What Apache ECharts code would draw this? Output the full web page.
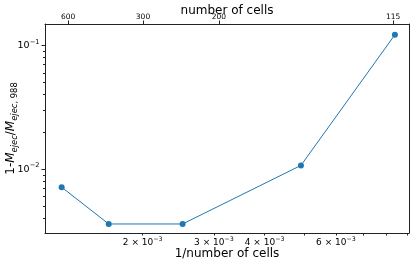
<!DOCTYPE html>
<html><head><meta charset="utf-8">
<script src="https://cdn.jsdelivr.net/npm/echarts@6/dist/echarts.min.js"></script>
<style>html,body{margin:0;padding:0;background:#fff}#c{width:415px;height:264px}</style>
</head><body><div id="c"></div>
<script>
// data (real values; axes are log10)
const xValues = [1.262e-3, 1.649e-3, 2.51e-3, 4.918e-3, 8.39e-3];
const yValues = [7.14e-3, 3.60e-3, 3.60e-3, 1.071e-2, 0.122];
const xRange = [1.148e-3, 9.09e-3];
const yRange = [3.043e-3, 0.149];
const bottomLabelValues = [2e-3, 3e-3, 4e-3, 6e-3];
const bottomTickValues = [2e-3, 3e-3, 4e-3, 5e-3, 6e-3, 7e-3, 8e-3, 9e-3];
const topTickValues = [1.310e-3, 2.004e-3, 3.085e-3, 8.31e-3];
const topTickLabels = ['600', '300', '200', '115'];
const leftMajorValues = [0.01, 0.1];
const leftMinorValues = [0.004, 0.005, 0.006, 0.007, 0.008, 0.009, 0.02, 0.03, 0.04, 0.05, 0.06, 0.07, 0.08, 0.09];

const L = Math.log10;
const FONT = 'DejaVu Sans';
const C = '#1f77b4';

function sciLabel(v) {
  const exp = Math.floor(v + 1e-9);
  const mant = Math.round(Math.pow(10, v - exp));
  const e = '\u2212' + (-exp);
  if (mant === 1) return '{m|10}{s|' + e + '}';
  return '{m|' + mant + ' \u00d7 10}{s|' + e + '}';
}
function topLabel(v) {
  let best = 0, d = Infinity;
  topTickValues.forEach((t, i) => { const dd = Math.abs(L(t) - v); if (dd < d) { d = dd; best = i; } });
  return topTickLabels[best];
}

const lineCol = '#222';
const chart = echarts.init(document.getElementById('c'), null, {renderer: 'canvas'});
chart.setOption({
  animation: false,
  backgroundColor: '#fff',
  textStyle: {fontFamily: FONT},
  grid: {left: 45, right: 6, top: 24, bottom: 31, containLabel: false, outerBoundsMode: 'none'},
  xAxis: [
    {
      type: 'value', position: 'bottom', min: L(xRange[0]), max: L(xRange[1]),
      name: '1/number of cells', nameLocation: 'middle', nameGap: 14.5, nameMoveOverlap: false,
      nameTextStyle: {fontFamily: FONT, fontSize: 12, color: '#000'},
      axisLine: {show: true, lineStyle: {color: lineCol, width: 1}},
      axisTick: {show: true, length: 2.5, customValues: bottomTickValues.map(L), lineStyle: {color: lineCol}},
      axisLabel: {
        customValues: bottomLabelValues.map(L), margin: 3.5, formatter: sciLabel,
        rich: {
          m: {fontFamily: FONT, fontSize: 9, color: '#000', lineHeight: 13},
          s: {fontFamily: FONT, fontSize: 6.3, color: '#000', lineHeight: 8, verticalAlign: 'top'}
        }
      },
      splitLine: {show: false}
    },
    {
      type: 'value', position: 'top', min: L(xRange[0]), max: L(xRange[1]),
      name: 'number of cells', nameLocation: 'middle', nameGap: 7.5, nameMoveOverlap: false,
      nameTextStyle: {fontFamily: FONT, fontSize: 12, color: '#000'},
      axisLine: {show: true, lineStyle: {color: lineCol, width: 1}},
      axisTick: {show: true, length: 3.5, customValues: topTickValues.map(L), lineStyle: {color: lineCol}},
      axisLabel: {customValues: topTickValues.map(L), margin: 3, formatter: topLabel,
        fontFamily: FONT, fontSize: 7.5, color: '#000'},
      splitLine: {show: false}
    }
  ],
  yAxis: [
    {
      type: 'value', position: 'left', min: L(yRange[0]), max: L(yRange[1]),
      name: '{n|1-}{i|M}{s|ejec}{n|/}{i|M}{s|ejec}{u|, 988}', nameLocation: 'middle', nameGap: 26, nameRotate: 90,
      nameMoveOverlap: false,
      nameTextStyle: {
        rich: {
          n: {fontFamily: FONT, fontSize: 12, color: '#000', lineHeight: 16},
          i: {fontFamily: FONT, fontSize: 12, fontStyle: 'italic', color: '#000', lineHeight: 16},
          s: {fontFamily: FONT, fontSize: 8.4, fontStyle: 'italic', color: '#000', lineHeight: 10, verticalAlign: 'bottom'},
          u: {fontFamily: FONT, fontSize: 8.4, color: '#000', lineHeight: 10, verticalAlign: 'bottom'}
        }
      },
      axisLine: {show: true, lineStyle: {color: lineCol, width: 1}},
      axisTick: {show: true, length: 3.5, customValues: leftMajorValues.map(L), lineStyle: {color: lineCol}},
      axisLabel: {
        customValues: leftMajorValues.map(L), margin: 5.5, formatter: sciLabel,
        rich: {
          m: {fontFamily: FONT, fontSize: 9.5, color: '#000', lineHeight: 14},
          s: {fontFamily: FONT, fontSize: 6.7, color: '#000', lineHeight: 8, verticalAlign: 'top'}
        }
      },
      splitLine: {show: false}
    },
    {
      type: 'value', position: 'left', min: L(yRange[0]), max: L(yRange[1]),
      axisLine: {show: false},
      axisTick: {show: true, length: 2, customValues: leftMinorValues.map(L), lineStyle: {color: lineCol}},
      axisLabel: {show: false},
      splitLine: {show: false}
    },
    {
      type: 'value', position: 'right', min: L(yRange[0]), max: L(yRange[1]),
      axisLine: {show: true, lineStyle: {color: lineCol, width: 1}},
      axisTick: {show: false}, axisLabel: {show: false}, splitLine: {show: false}
    }
  ],
  series: [{
    type: 'line', xAxisIndex: 0, yAxisIndex: 0,
    data: xValues.map((x, i) => [L(x), L(yValues[i])]),
    symbol: 'circle', symbolSize: 6,
    itemStyle: {color: C},
    lineStyle: {color: C, width: 1}
  }]
});
</script>
</body></html>
